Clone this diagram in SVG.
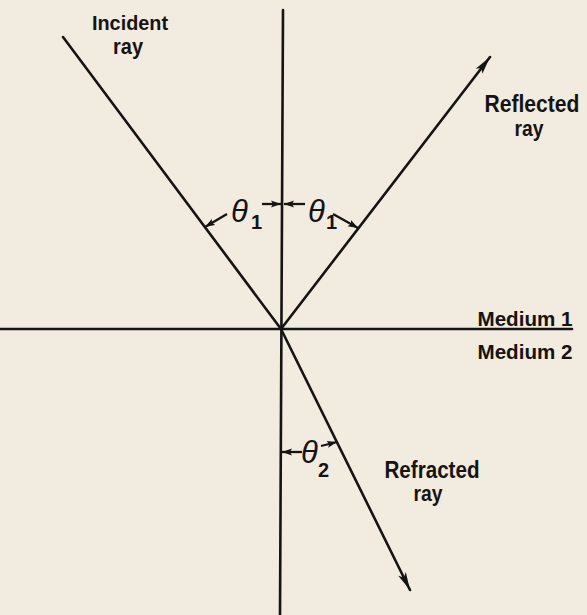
<svg xmlns="http://www.w3.org/2000/svg" width="587" height="615" viewBox="0 0 587 615">
  <defs>
    <style>
      .ln { stroke: #161412; stroke-width: 2.6; fill: none; stroke-linecap: round; }
      .ang { stroke: #161412; stroke-width: 2.3; fill: none; }
      .lbl { font-family: "Liberation Sans", Arial, sans-serif; font-weight: bold; font-size: 22px; fill: #161412; text-anchor: middle; }
      .big { font-size: 23px; }
      .mid { font-size: 21px; }
      .th { font-family: "Liberation Sans", Arial, sans-serif; font-style: italic; font-size: 31px; fill: #161412; }
      .sub { font-family: "Liberation Sans", Arial, sans-serif; font-weight: bold; font-size: 20px; fill: #161412; }
    </style>
    <marker id="bigArrow" markerUnits="userSpaceOnUse" viewBox="-19 -5 20 10" markerWidth="20" markerHeight="10" refX="0" refY="0" orient="auto">
      <path d="M0,0 L-18,-4.2 L-14,0 L-18,4.2 Z" fill="#161412"/>
    </marker>
    <marker id="smallArrow" markerUnits="userSpaceOnUse" viewBox="-10 -4 11 8" markerWidth="11" markerHeight="8" refX="0" refY="0" orient="auto">
      <path d="M0,0 L-10,-3.5 L-8,0 L-10,3.5 Z" fill="#161412"/>
    </marker>
  </defs>

  <rect x="0" y="0" width="587" height="615" fill="#f1ebe0"/>

  <g id="connectors">
    <line id="normal" class="ln" x1="283" y1="10" x2="280" y2="615"/>
    <line id="interface" class="ln" x1="0" y1="329" x2="572" y2="329"/>
    <line id="incident-ray" class="ln" x1="63" y1="37" x2="281" y2="329"/>
    <line id="reflected-ray" class="ln" x1="281" y1="329" x2="490" y2="57" marker-end="url(#bigArrow)"/>
    <line id="refracted-ray" class="ln" x1="281" y1="329" x2="410" y2="590" marker-end="url(#bigArrow)"/>
  </g>

  <g id="angle-theta1-left">
    <line class="ang" x1="227" y1="214" x2="205" y2="227" marker-end="url(#smallArrow)"/>
    <line class="ang" x1="262" y1="204" x2="281" y2="204" marker-end="url(#smallArrow)"/>
    <text class="th" x="231" y="222">θ</text>
    <text class="sub" x="251" y="229">1</text>
  </g>

  <g id="angle-theta1-right">
    <line class="ang" x1="305" y1="204" x2="284" y2="204" marker-end="url(#smallArrow)"/>
    <line class="ang" x1="333" y1="214" x2="358" y2="228" marker-end="url(#smallArrow)"/>
    <text class="th" x="308" y="222">θ</text>
    <text class="sub" x="326" y="229">1</text>
  </g>

  <g id="angle-theta2">
    <line class="ang" x1="302" y1="452" x2="282" y2="452" marker-end="url(#smallArrow)"/>
    <line class="ang" x1="321" y1="446" x2="337" y2="442" marker-end="url(#smallArrow)"/>
    <text class="th" x="301" y="463">θ</text>
    <text class="sub" x="318" y="477">2</text>
  </g>

  <g id="label-incident">
    <text class="lbl mid" x="130" y="30" textLength="76" lengthAdjust="spacingAndGlyphs">Incident</text>
    <text class="lbl" x="128" y="54" textLength="30" lengthAdjust="spacingAndGlyphs">ray</text>
  </g>

  <g id="label-reflected">
    <text class="lbl big" x="532" y="112" textLength="95" lengthAdjust="spacingAndGlyphs">Reflected</text>
    <text class="lbl" x="529" y="136" textLength="29" lengthAdjust="spacingAndGlyphs">ray</text>
  </g>

  <g id="label-medium1">
    <text class="lbl mid" x="525" y="326" textLength="95" lengthAdjust="spacingAndGlyphs">Medium 1</text>
  </g>

  <g id="label-medium2">
    <text class="lbl mid" x="525" y="359" textLength="95" lengthAdjust="spacingAndGlyphs">Medium 2</text>
  </g>

  <g id="label-refracted">
    <text class="lbl big" x="432" y="478" textLength="95" lengthAdjust="spacingAndGlyphs">Refracted</text>
    <text class="lbl" x="428" y="501" textLength="29" lengthAdjust="spacingAndGlyphs">ray</text>
  </g>
</svg>
